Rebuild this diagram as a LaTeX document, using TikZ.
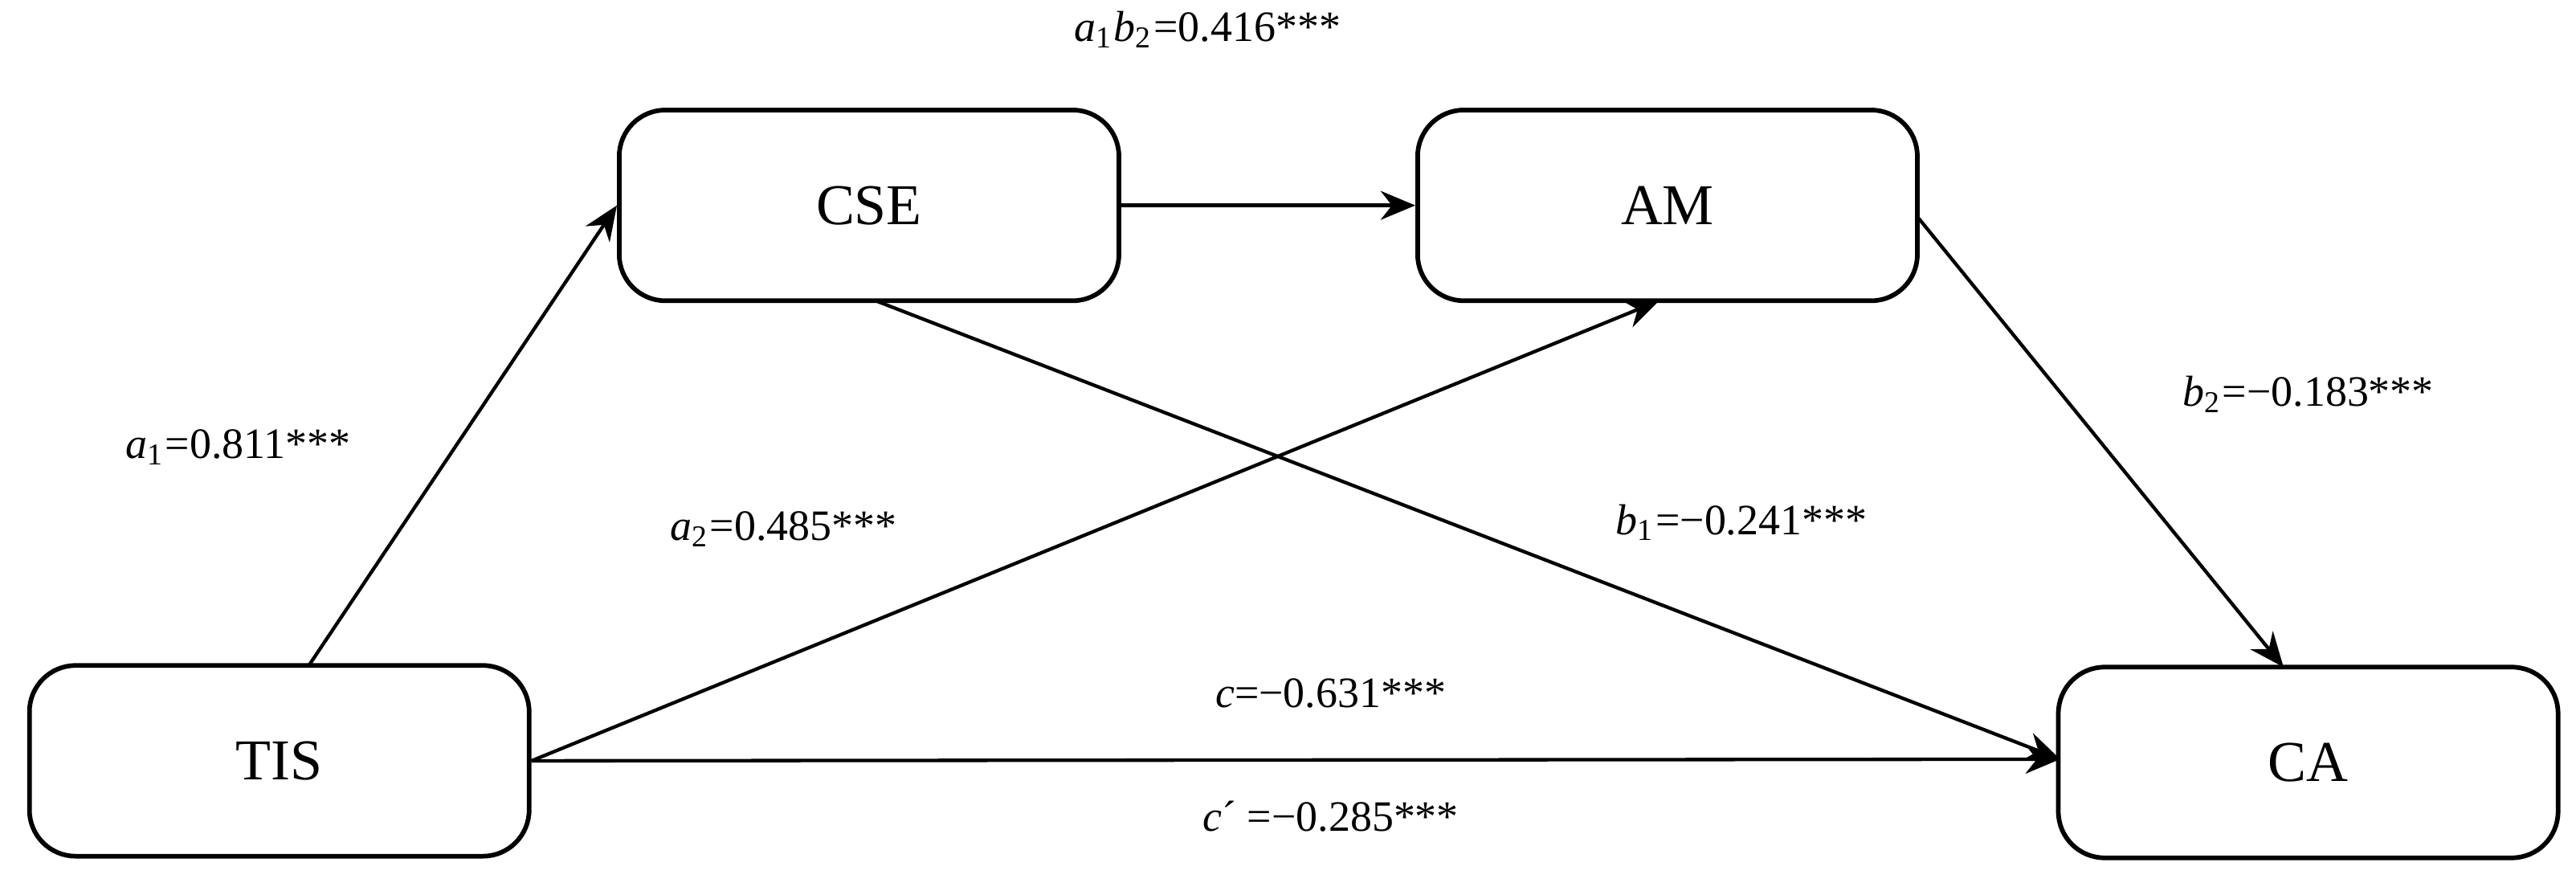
\documentclass[tikz,border=0pt]{standalone}
\usepackage{fontspec}
\setmainfont{Liberation Serif}
\usetikzlibrary{arrows.meta}
\newcommand{\vsub}[2]{\textit{#1}\textsubscript{#2}}
\begin{document}
\begin{tikzpicture}[x=0.01cm,y=-0.01cm,
	box/.style={draw=black, thick, rounded corners=8pt, minimum width=3.04cm, minimum height=1.16cm, font=\fontsize{10}{12}\selectfont},
	lab/.style={font=\fontsize{7.5}{9}\selectfont},
	arr/.style={-{Stealth[length=6pt,width=5pt]}, semithick}]
	\useasboundingbox (0,0) rectangle (1568,537);

	\node[box] (TIS) at (170,463) {TIS};
	\node[box] (CSE) at (529,125) {CSE};
	\node[box] (AM)  at (1015,125) {AM};
	\node[box] (CA)  at (1405,464) {CA};

	\coordinate (tistop) at (188,405);
	\coordinate (cabot)  at (1254,462);

	\path [arr] (tistop)       edge (CSE.west);
	\path [arr] (CSE)          edge (AM);
	\path [arr] (TIS.east)     edge (1010,183);
	\path [arr] (533,183)      edge (cabot);
	\path [arr] (1168,133)     edge (1390,406);
	\path [arr] (TIS.east)     edge (cabot);

	\node[lab] (lab1) at (735,18)   {\vsub{a}{1}\vsub{b}{2}=0.416***};
	\node[lab] (lab2) at (145,272)  {\vsub{a}{1}=0.811***};
	\node[lab] (lab3) at (477,322)  {\vsub{a}{2}=0.485***};
	\node[lab] (lab4) at (1060,318) {\vsub{b}{1}=−0.241***};
	\node[lab] (lab5) at (1405,240) {\vsub{b}{2}=−0.183***};
	\node[lab] (lab6) at (810,422)  {\textit{c}=−0.631***};
	\node[lab] (lab7) at (810,497)  {\textit{c}´ =−0.285***};
\end{tikzpicture}
\end{document}
